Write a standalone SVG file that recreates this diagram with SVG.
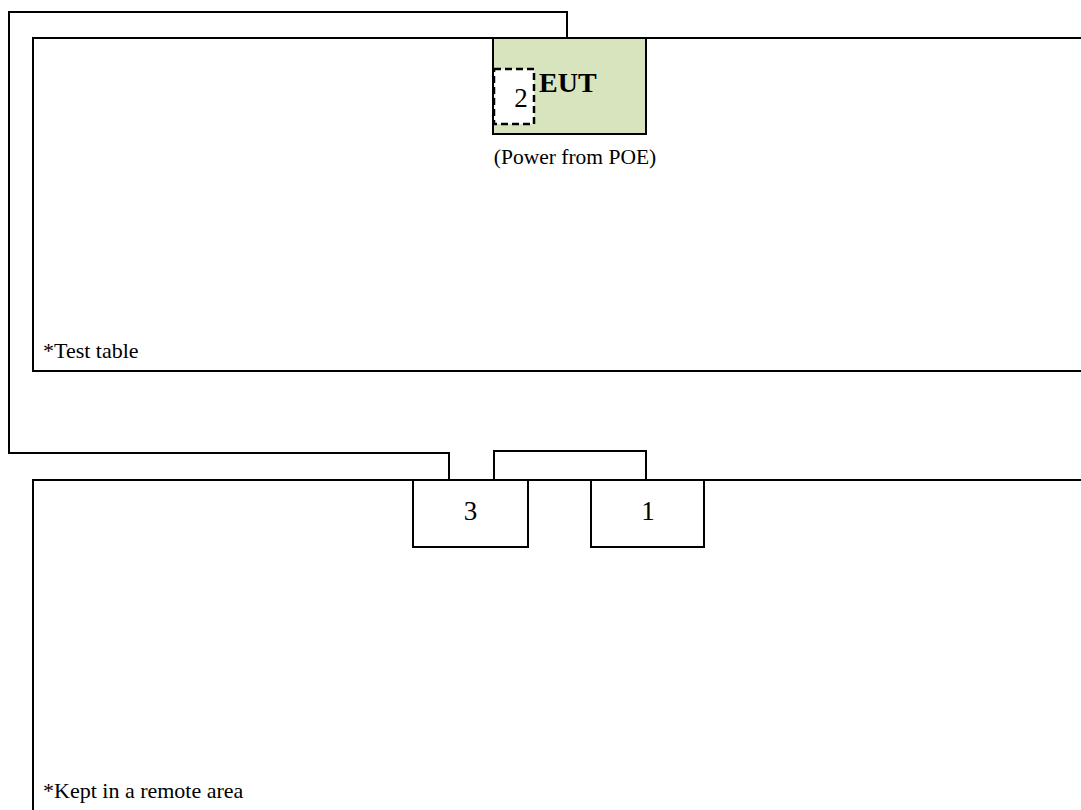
<svg xmlns="http://www.w3.org/2000/svg" width="1081" height="810" viewBox="0 0 1081 810">
<style>
.ln{fill:none;stroke:#000;stroke-width:2}
.bx{fill:#fff;stroke:#000;stroke-width:2}
.t{font-family:"Liberation Serif",serif;fill:#000}
</style>
<rect width="1081" height="810" fill="#fff"/>
<g id="test-table"><path class="ln" d="M1082,38 H33 V371 H1082"/><text class="t" x="43" y="358" font-size="22">*Test table</text></g>
<g id="remote-area"><path class="ln" d="M1082,480 H33 V811"/><text class="t" x="43" y="798" font-size="22">*Kept in a remote area</text></g>
<g id="connectors">
<path class="ln" d="M449,480 V453 H9 V12 H567 V38"/>
<path class="ln" d="M494,480 V451 H646 V480"/>
</g>
<g id="eut"><rect x="493" y="38" width="153" height="96" fill="#d7e4bd" stroke="#000" stroke-width="2"/><text class="t" x="539" y="92" font-size="28" font-weight="bold">EUT</text></g>
<g id="node2"><rect x="494" y="69" width="40" height="55" fill="#fff" stroke="#000" stroke-width="2.5" stroke-dasharray="7,4"/><text class="t" x="521" y="107" font-size="27" text-anchor="middle">2</text></g>
<text class="t" x="575" y="164" font-size="21.5" text-anchor="middle">(Power from POE)</text>
<g id="node3"><rect class="bx" x="413" y="480" width="115" height="67"/><text class="t" x="470.5" y="520" font-size="27" text-anchor="middle">3</text></g>
<g id="node1"><rect class="bx" x="591" y="480" width="113" height="67"/><text class="t" x="648" y="520" font-size="27" text-anchor="middle">1</text></g>
</svg>
